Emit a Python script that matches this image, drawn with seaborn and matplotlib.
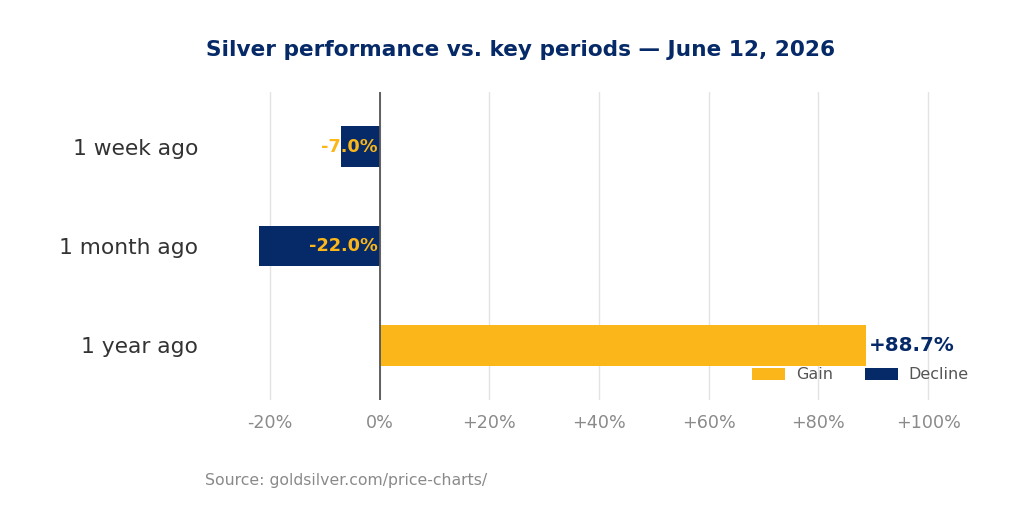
import pandas as pd
import matplotlib.pyplot as plt
import seaborn as sns

periods = ["1 week ago", "1 month ago", "1 year ago"]
changes = [-7.0, -22.0, 88.7]
tick_values = [-20, 0, 20, 40, 60, 80, 100]
tick_labels = ["-20%", "0%", "+20%", "+40%", "+60%", "+80%", "+100%"]

GOLD = "#FBB619"
NAVY = "#062A67"

df = pd.DataFrame({"Period": periods, "Change": changes})
df["Direction"] = ["Gain" if v >= 0 else "Decline" for v in df["Change"]]

sns.set_theme(style="white")
plt.rcParams["font.family"] = ["DejaVu Sans"]

fig = plt.figure(figsize=(10.24, 5.12), dpi=100)
ax = fig.add_axes([0.21, 0.219, 0.75, 0.601])

sns.barplot(
    data=df,
    x="Change",
    y="Period",
    hue="Direction",
    hue_order=["Gain", "Decline"],
    palette={"Gain": GOLD, "Decline": NAVY},
    saturation=1,
    orient="h",
    dodge=False,
    width=0.41,
    linewidth=0,
    ax=ax,
)

ax.set_xlim(-30, 110)
ax.set_ylim(2.55, -0.55)
ax.set_xticks(tick_values)
ax.set_xticklabels(tick_labels)
ax.xaxis.grid(True, color="#e3e3e3", linewidth=1)
ax.set_axisbelow(True)
ax.axvline(0, color="#555555", linewidth=1.3, zorder=3)

ax.tick_params(axis="x", colors="#8a8a8a", labelsize=12.6, length=4, width=0.8, pad=6)
ax.tick_params(axis="y", labelsize=15.7, length=0, pad=12)
for lab in ax.get_yticklabels():
    lab.set_color("#333333")
ax.set_xlabel("")
ax.set_ylabel("")
sns.despine(ax=ax, left=True, bottom=True)

for i, v in enumerate(changes):
    if v < 0:
        ax.text(-0.3, i, f"{v:.1f}%", ha="right", va="center",
                color=GOLD, fontsize=12.8, fontweight="bold", zorder=4)
    else:
        ax.text(v + 0.4, i, f"+{v:.1f}%", ha="left", va="center",
                color=NAVY, fontsize=14.3, fontweight="bold", zorder=4)

leg = ax.legend(
    loc="lower right",
    ncol=2,
    frameon=False,
    fontsize=11.5,
    handlelength=2.1,
    handleheight=0.8,
    handletextpad=0.65,
    columnspacing=2.0,
    bbox_to_anchor=(1.0, 0.01),
)
for t in leg.get_texts():
    t.set_color("#555555")

fig.text(0.508, 0.902, "Silver performance vs. key periods \u2014 June 12, 2026",
         ha="center", va="center", fontsize=15.6, fontweight="bold", color=NAVY)
fig.text(0.2, 0.061, "Source: goldsilver.com/price-charts/",
         ha="left", va="center", fontsize=11.3, color="#8a8a8a")

fig.savefig("out.png", dpi=100)
